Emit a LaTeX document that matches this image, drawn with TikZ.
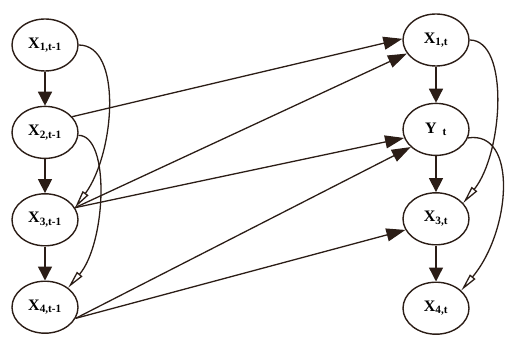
\documentclass[tikz,border=0pt]{standalone}
\usepackage{fontspec}
\setmainfont{Liberation Serif}
\usepackage{tikz}
\usetikzlibrary{arrows.meta,positioning,shapes.geometric}
\definecolor{inkc}{HTML}{2B1D16}

\begin{document}
\begin{tikzpicture}[x=1pt,y=-1pt,
  node distance=34pt,
  var/.style={draw=inkc,ellipse,line width=1.4pt,inner sep=0pt,
    minimum width=66pt,minimum height=52pt,
    font=\fontsize{16}{18}\selectfont\bfseries},
  chain/.style={-{Triangle[length=14pt,width=14pt]},draw=inkc,line width=1.4pt},
  skip/.style={-{Triangle[open,length=18pt,width=7pt]},draw=inkc,line width=1.3pt},
  cross/.style={-{Triangle[length=19pt,width=13pt]},draw=inkc,line width=1.3pt}
]
\useasboundingbox (0,0) rectangle (508,353);
% time t-1
\node[var] (x1p) at (45,45) {X\textsubscript{1,t-1}};
\node[var,below=of x1p] (x2p) {X\textsubscript{2,t-1}};
\node[var,below=of x2p] (x3p) {X\textsubscript{3,t-1}};
\node[var,below=of x3p] (x4p) {X\textsubscript{4,t-1}};
% time t
\node[var] (x1t) at (436,40) {X\textsubscript{1,t}};
\node[var,below=36pt of x1t] (yt) {Y\textsubscript{\hspace{6pt}t}};
\node[var,below=36pt of yt] (x3t) {X\textsubscript{3,t}};
\node[var,below=36pt of x3t] (x4t) {X\textsubscript{4,t}};
\draw[chain] (x1p)--(x2p); \draw[chain] (x2p)--(x3p); \draw[chain] (x3p)--(x4p);
\draw[chain] (x1t)--(yt); \draw[chain] (yt)--(x3t); \draw[chain] (x3t)--(x4t);
\draw[skip] (x1p.east) .. controls +(44,0) and +(40,-55) .. (x3p.22);
\draw[skip] (x2p.-5) .. controls +(32,0) and +(38,-45) .. (x4p.40);
\draw[skip] (x1t.east) .. controls +(40,0) and +(40,-50) .. (x3t.30);
\draw[skip] (yt.-15) .. controls +(50,-8) and +(50,-60) .. (x4t.35);
\draw[cross] (x2p.30) -- (x1t.178);
\draw[cross] (x3p.22) -- (x1t.205);
\draw[cross] (x3p.22) -- (yt.195);
\draw[cross] (x4p.-20) -- (yt.215);
\draw[cross] (x4p.-20) -- (x3t.200);
\end{tikzpicture}
\end{document}
